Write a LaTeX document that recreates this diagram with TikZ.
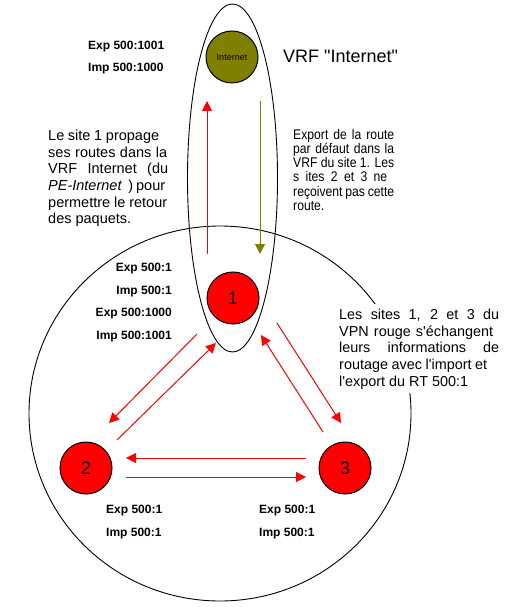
\documentclass[tikz,border=0pt]{standalone}
\usepackage{fontspec}
\setmainfont{Liberation Sans}[Ligatures=TeXOff]
\newfontfamily\condfont{Liberation Sans}[Ligatures=TeXOff, FakeStretch=0.87]
\usetikzlibrary{arrows.meta}
\definecolor{olivec}{RGB}{128,128,0}
\begin{document}
\begin{tikzpicture}[x=1pt,y=-1pt,
  site/.style={circle, draw=black, line width=1pt, fill=red, minimum size=52pt, inner sep=0pt, font=\fontsize{18}{20}\selectfont},
  lbl/.style={inner sep=0pt, font=\fontsize{12}{14}\selectfont\bfseries},
  paraA/.style={inner sep=0pt, anchor=base west, font=\fontsize{14.5}{16}\selectfont},
  paraB/.style={inner sep=0pt, anchor=base west, font=\condfont\fontsize{14}{16}\selectfont},
  rarr/.style={draw=red, line width=1pt, -{Triangle[length=10pt,width=10pt]}},
  oarr/.style={draw=olivec, line width=1pt, -{Triangle[length=10pt,width=10pt]}}
]
\useasboundingbox (0,0) rectangle (506,609);
\fill[white] (0,0) rectangle (506,609);

% outer VPN circle and VRF ellipse
\draw[line width=0.9pt] (220,413.5) ellipse [x radius=191pt, y radius=187.5pt];
\draw[line width=0.9pt] (232.5,178) ellipse [x radius=45pt, y radius=174pt];

% white background of the right paragraph
\fill[white] (338,304) rectangle (501,393);

% sites
\node[site, fill=olivec, font=\fontsize{9}{10}\selectfont] (inet) at (232,57) {Internet};
\node[site] (n1) at (233,298) {1};
\node[site] (n2) at (86,468) {2};
\node[site] (n3) at (345,468) {3};

% arrow end points
\coordinate (u0) at (207,254); \coordinate (u1) at (207,101);
\coordinate (d0) at (260,101); \coordinate (d1) at (260,254);
\coordinate (a12s) at (197,334); \coordinate (a12e) at (109,423);
\coordinate (a21s) at (117,440); \coordinate (a21e) at (216,343);
\coordinate (a13s) at (277,323); \coordinate (a13e) at (341,423);
\coordinate (a31s) at (323,432); \coordinate (a31e) at (261,335);
\coordinate (a32s) at (306,458); \coordinate (a32e) at (126,458);
\coordinate (a23s) at (126,477); \coordinate (a23e) at (306,477);

\draw[rarr] (u0) -- (u1);
\draw[oarr] (d0) -- (d1);
\draw[rarr] (a12s) -- (a12e);
\draw[rarr] (a21s) -- (a21e);
\draw[rarr] (a13s) -- (a13e);
\draw[rarr] (a31s) -- (a31e);
\draw[rarr] (a32s) -- (a32e);
\draw[rarr] (a23s) -- (a23e);

% RT labels
\node[lbl, anchor=base west] (ti1) at (88,50) {Exp 500:1001};
\node[lbl, anchor=base west] (ti2) at (88,72) {Imp 500:1000};
\node[inner sep=0pt, anchor=base west, font=\fontsize{18}{20}\selectfont] (vrf) at (283,62.7) {VRF "Internet"};

\node[lbl, anchor=base east] (l11) at (172,271.7) {Exp 500:1};
\node[lbl, anchor=base east] (l12) at (172,294.3) {Imp 500:1};
\node[lbl, anchor=base east] (l13) at (172,316.5) {Exp 500:1000};
\node[lbl, anchor=base east] (l14) at (172,339) {Imp 500:1001};

\node[lbl, anchor=base west] (l21) at (106,513.3) {Exp 500:1};
\node[lbl, anchor=base west] (l22) at (106,536) {Imp 500:1};
\node[lbl, anchor=base west] (l31) at (259,513.3) {Exp 500:1};
\node[lbl, anchor=base west] (l32) at (259,536) {Imp 500:1};

% left paragraph
\node[paraA] (pa1) at (48,140.5) {\makebox[111pt][s]{Le site 1 propage}};
\node[paraA] (pa2) at (48,157.2) {\makebox[119pt][s]{ses routes dans la}};
\node[paraA] (pa3) at (48,173.9) {\makebox[120pt][s]{VRF Internet (du}};
\node[paraA] (pa4) at (48,190.6) {\makebox[117pt][s]{\textit{PE-Internet}\ \ ) pour}};
\node[paraA] (pa5) at (48,207.3) {\makebox[119pt][s]{permettre le retour}};
\node[paraA] (pa6) at (48,224) {des paquets.};

% right paragraph
\node[paraB] (pb1) at (293,139.3) {\makebox[101pt][s]{Export de la route}};
\node[paraB] (pb2) at (293,153.5) {\makebox[101pt][s]{par défaut dans la}};
\node[paraB] (pb3) at (293,167.7) {\makebox[101pt][s]{VRF du site 1. Les}};
\node[paraB] (pb4) at (293,181.9) {\makebox[94pt][s]{s ites 2 et 3 ne}};
\node[paraB] (pb5) at (293,196.1) {\makebox[101pt][s]{reçoivent pas cette}};
\node[paraB] (pb6) at (293,210.5) {route.};

% bottom right paragraph
\node[paraA, font=\fontsize{14.4}{16}\selectfont] (pc1) at (339,319.3) {\makebox[160pt][s]{Les sites 1, 2 et 3 du}};
\node[paraA, font=\fontsize{14.4}{16}\selectfont] (pc2) at (339,336) {\makebox[154pt][s]{VPN rouge s'échangent}};
\node[paraA, font=\fontsize{14.4}{16}\selectfont] (pc3) at (339,352.7) {\makebox[160pt][s]{leurs informations de}};
\node[paraA, font=\fontsize{14.4}{16}\selectfont] (pc4) at (339,369.4) {\makebox[148pt][s]{routage avec l'import et}};
\node[paraA, font=\fontsize{14.4}{16}\selectfont] (pc5) at (339,386) {l'export du RT 500:1};
\end{tikzpicture}
\end{document}
